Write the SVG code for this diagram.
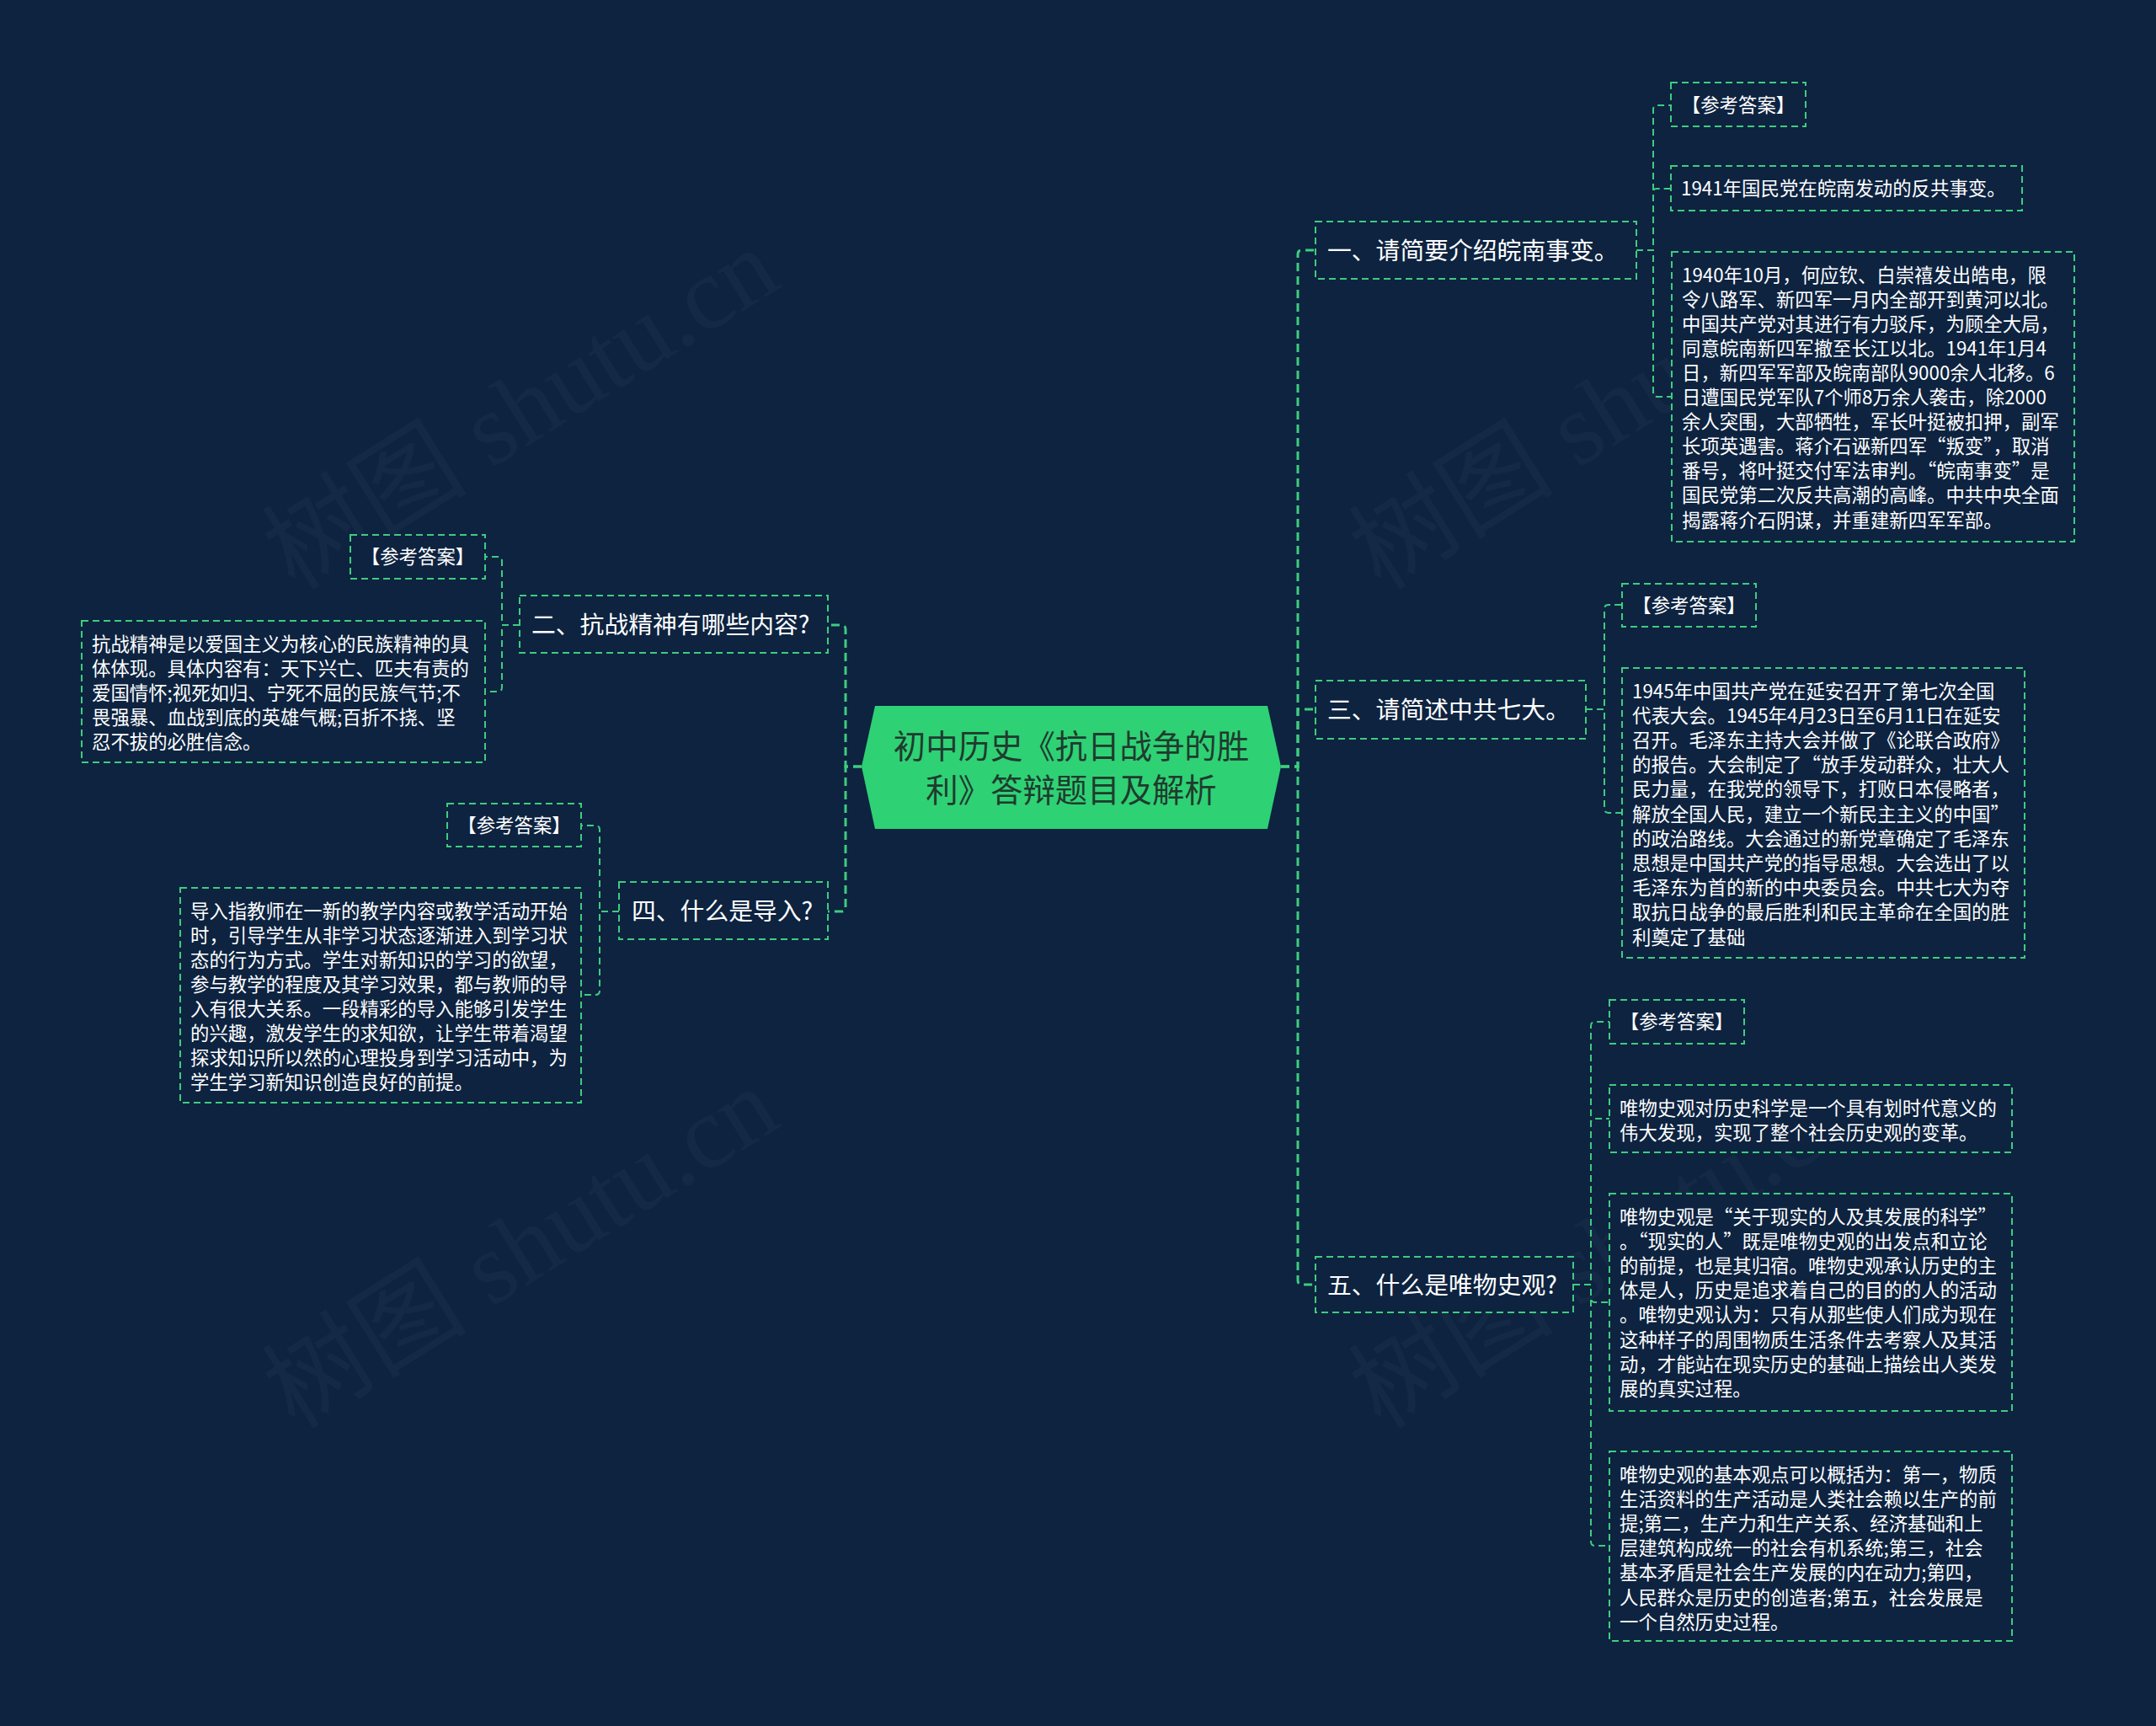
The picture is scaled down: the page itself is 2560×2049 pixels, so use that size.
<svg xmlns="http://www.w3.org/2000/svg" width="2560" height="2049" viewBox="0 0 2560 2049">
<style>
.bg{fill:#0d2340}
.wm{font-family:"Liberation Serif","Noto Sans CJK SC",serif;font-size:122px;fill:#ffffff;fill-opacity:0.03}
.box{fill:#0d2340;stroke:#3fcc7e;stroke-width:2;stroke-dasharray:8 5}
.main{fill:none;stroke:#3fcc7e;stroke-width:3;stroke-dasharray:10 6}
.sub{fill:none;stroke:#3fcc7e;stroke-width:2;stroke-dasharray:8 5}
.t1{font-family:"Noto Sans CJK SC","Noto Sans",sans-serif;font-size:28.8px;fill:#ffffff}
.t2{font-family:"Noto Sans CJK SC","Noto Sans",sans-serif;font-size:22.4px;fill:#ffffff}
.t3{font-family:"Noto Sans CJK SC","Noto Sans",sans-serif;font-size:22.4px;fill:#ffffff;text-anchor:middle}
.tc{font-family:"Noto Sans CJK SC","Noto Sans",sans-serif;font-size:38.4px;fill:#1f3b2e;text-anchor:middle}
</style>
<rect class="bg" x="0" y="0" width="2560" height="2049"/>
<g id="watermarks">
<text class="wm" x="350" y="702" transform="rotate(-32 350 702)">树图 shutu.cn</text>
<text class="wm" x="350" y="1698" transform="rotate(-32 350 1698)">树图 shutu.cn</text>
<text class="wm" x="1640" y="702" transform="rotate(-32 1640 702)">树图 shutu.cn</text>
<text class="wm" x="1640" y="1698" transform="rotate(-32 1640 1698)">树图 shutu.cn</text>
</g>
<g id="connectors">
<path class="main" d="M1521,910 H1541 V302 Q1541,297 1546,297 H1562"/>
<path class="main" d="M1521,910 H1541 V842 H1562"/>
<path class="main" d="M1521,910 H1541 V1520 Q1541,1525 1546,1525 H1562"/>
<path class="main" d="M1023,910 H1004 V747 Q1004,742 999,742 H983"/>
<path class="main" d="M1023,910 H1004 V1077 Q1004,1082 999,1082 H983"/>
<path class="sub" d="M1943,297 H1963 V130 Q1963,125 1968,125 H1984"/>
<path class="sub" d="M1943,297 H1963 V228 Q1963,224 1967,224 H1984"/>
<path class="sub" d="M1943,297 H1963 V466 Q1963,471 1968,471 H1985"/>
<path class="sub" d="M1883,842 H1905 V723 Q1905,718 1910,718 H1926"/>
<path class="sub" d="M1883,842 H1905 V960 Q1905,965 1910,965 H1926"/>
<path class="sub" d="M1868,1525 H1889 V1218 Q1889,1213 1894,1213 H1911"/>
<path class="sub" d="M1868,1525 H1889 V1333 Q1889,1328 1894,1328 H1911"/>
<path class="sub" d="M1868,1525 H1889 V1541 Q1889,1546 1894,1546 H1911"/>
<path class="sub" d="M1868,1525 H1889 V1830 Q1889,1835 1894,1835 H1911"/>
<path class="sub" d="M617,742 H596 V666 Q596,661 591,661 H576"/>
<path class="sub" d="M617,742 H596 V816 Q596,821 591,821 H576"/>
<path class="sub" d="M735,1082 H712 V985 Q712,980 707,980 H690"/>
<path class="sub" d="M735,1082 H712 V1176 Q712,1181 707,1181 H690"/>
</g>
<g id="root">
<polygon points="1023,910 1039,838 1505,838 1521,910 1505,984 1039,984" fill="#2fd175"/>
<text class="tc" x="1272"><tspan x="1272" y="900">初中历史《抗日战争的胜</tspan><tspan x="1272" y="952">利》答辩题目及解析</tspan></text>
</g>
<g id="n1">
<rect class="box" x="1562" y="263" width="381" height="68"/>
<text class="t1" x="1576" y="308">一、请简要介绍皖南事变。</text>
</g>
<g id="n1a">
<rect class="box" x="1984" y="98" width="160" height="52"/>
<text class="t3" x="2064" y="132.5">【参考答案】</text>
</g>
<g id="n1b">
<rect class="box" x="1984" y="197" width="417" height="53"/>
<text class="t2" x="1996" y="232">1941年国民党在皖南发动的反共事变。</text>
</g>
<g id="n1c">
<rect class="box" x="1985" y="299" width="478" height="344"/>
<text class="t2"><tspan x="1997" y="334.5">1940年10月，何应钦、白崇禧发出皓电，限</tspan><tspan x="1997" dy="29.1">令八路军、新四军一月内全部开到黄河以北。</tspan><tspan x="1997" dy="29.1">中国共产党对其进行有力驳斥，为顾全大局，</tspan><tspan x="1997" dy="29.1">同意皖南新四军撤至长江以北。1941年1月4</tspan><tspan x="1997" dy="29.1">日，新四军军部及皖南部队9000余人北移。6</tspan><tspan x="1997" dy="29.1">日遭国民党军队7个师8万余人袭击，除2000</tspan><tspan x="1997" dy="29.1">余人突围，大部牺牲，军长叶挺被扣押，副军</tspan><tspan x="1997" dy="29.1">长项英遇害。蒋介石诬新四军“叛变”，取消</tspan><tspan x="1997" dy="29.1">番号，将叶挺交付军法审判。“皖南事变”是</tspan><tspan x="1997" dy="29.1">国民党第二次反共高潮的高峰。中共中央全面</tspan><tspan x="1997" dy="29.1">揭露蒋介石阴谋，并重建新四军军部。</tspan></text>
</g>
<g id="n3">
<rect class="box" x="1562" y="808" width="321" height="69"/>
<text class="t1" x="1576" y="853">三、请简述中共七大。</text>
</g>
<g id="n3a">
<rect class="box" x="1926" y="693" width="159" height="51"/>
<text class="t3" x="2005.5" y="727">【参考答案】</text>
</g>
<g id="n3b">
<rect class="box" x="1926" y="793" width="478" height="344"/>
<text class="t2"><tspan x="1938" y="828.5">1945年中国共产党在延安召开了第七次全国</tspan><tspan x="1938" dy="29.2">代表大会。1945年4月23日至6月11日在延安</tspan><tspan x="1938" dy="29.2">召开。毛泽东主持大会并做了《论联合政府》</tspan><tspan x="1938" dy="29.2">的报告。大会制定了“放手发动群众，壮大人</tspan><tspan x="1938" dy="29.2">民力量，在我党的领导下，打败日本侵略者，</tspan><tspan x="1938" dy="29.2">解放全国人民，建立一个新民主主义的中国”</tspan><tspan x="1938" dy="29.2">的政治路线。大会通过的新党章确定了毛泽东</tspan><tspan x="1938" dy="29.2">思想是中国共产党的指导思想。大会选出了以</tspan><tspan x="1938" dy="29.2">毛泽东为首的新的中央委员会。中共七大为夺</tspan><tspan x="1938" dy="29.2">取抗日战争的最后胜利和民主革命在全国的胜</tspan><tspan x="1938" dy="29.2">利奠定了基础</tspan></text>
</g>
<g id="n5">
<rect class="box" x="1562" y="1492" width="306" height="66"/>
<text class="t1" x="1576" y="1536">五、什么是唯物史观?</text>
</g>
<g id="n5a">
<rect class="box" x="1911" y="1187" width="160" height="52"/>
<text class="t3" x="1991" y="1221">【参考答案】</text>
</g>
<g id="n5b">
<rect class="box" x="1911" y="1288" width="478" height="80"/>
<text class="t2"><tspan x="1923" y="1324">唯物史观对历史科学是一个具有划时代意义的</tspan><tspan x="1923" dy="29.1">伟大发现，实现了整个社会历史观的变革。</tspan></text>
</g>
<g id="n5c">
<rect class="box" x="1911" y="1417" width="478" height="258"/>
<text class="t2"><tspan x="1923" y="1453">唯物史观是“关于现实的人及其发展的科学”</tspan><tspan x="1923" dy="29.1">。“现实的人”既是唯物史观的出发点和立论</tspan><tspan x="1923" dy="29.1">的前提，也是其归宿。唯物史观承认历史的主</tspan><tspan x="1923" dy="29.1">体是人，历史是追求着自己的目的的人的活动</tspan><tspan x="1923" dy="29.1">。唯物史观认为：只有从那些使人们成为现在</tspan><tspan x="1923" dy="29.1">这种样子的周围物质生活条件去考察人及其活</tspan><tspan x="1923" dy="29.1">动，才能站在现实历史的基础上描绘出人类发</tspan><tspan x="1923" dy="29.1">展的真实过程。</tspan></text>
</g>
<g id="n5d">
<rect class="box" x="1911" y="1723" width="478" height="225"/>
<text class="t2"><tspan x="1923" y="1759">唯物史观的基本观点可以概括为：第一，物质</tspan><tspan x="1923" dy="29.1">生活资料的生产活动是人类社会赖以生产的前</tspan><tspan x="1923" dy="29.1">提;第二，生产力和生产关系、经济基础和上</tspan><tspan x="1923" dy="29.1">层建筑构成统一的社会有机系统;第三，社会</tspan><tspan x="1923" dy="29.1">基本矛盾是社会生产发展的内在动力;第四，</tspan><tspan x="1923" dy="29.1">人民群众是历史的创造者;第五，社会发展是</tspan><tspan x="1923" dy="29.1">一个自然历史过程。</tspan></text>
</g>
<g id="n2">
<rect class="box" x="617" y="707" width="366" height="68"/>
<text class="t1" x="631" y="752">二、抗战精神有哪些内容?</text>
</g>
<g id="n2a">
<rect class="box" x="416" y="635" width="160" height="52"/>
<text class="t3" x="496" y="669">【参考答案】</text>
</g>
<g id="n2b">
<rect class="box" x="97" y="737" width="479" height="168"/>
<text class="t2"><tspan x="109" y="772.5">抗战精神是以爱国主义为核心的民族精神的具</tspan><tspan x="109" dy="29">体体现。具体内容有：天下兴亡、匹夫有责的</tspan><tspan x="109" dy="29">爱国情怀;视死如归、宁死不屈的民族气节;不</tspan><tspan x="109" dy="29">畏强暴、血战到底的英雄气概;百折不挠、坚</tspan><tspan x="109" dy="29">忍不拔的必胜信念。</tspan></text>
</g>
<g id="n4">
<rect class="box" x="735" y="1047" width="248" height="68"/>
<text class="t1" x="750" y="1092">四、什么是导入?</text>
</g>
<g id="n4a">
<rect class="box" x="531" y="954" width="159" height="51"/>
<text class="t3" x="610.5" y="988">【参考答案】</text>
</g>
<g id="n4b">
<rect class="box" x="214" y="1054" width="476" height="255"/>
<text class="t2"><tspan x="226" y="1090">导入指教师在一新的教学内容或教学活动开始</tspan><tspan x="226" dy="29">时，引导学生从非学习状态逐渐进入到学习状</tspan><tspan x="226" dy="29">态的行为方式。学生对新知识的学习的欲望，</tspan><tspan x="226" dy="29">参与教学的程度及其学习效果，都与教师的导</tspan><tspan x="226" dy="29">入有很大关系。一段精彩的导入能够引发学生</tspan><tspan x="226" dy="29">的兴趣，激发学生的求知欲，让学生带着渴望</tspan><tspan x="226" dy="29">探求知识所以然的心理投身到学习活动中，为</tspan><tspan x="226" dy="29">学生学习新知识创造良好的前提。</tspan></text>
</g>
</svg>
